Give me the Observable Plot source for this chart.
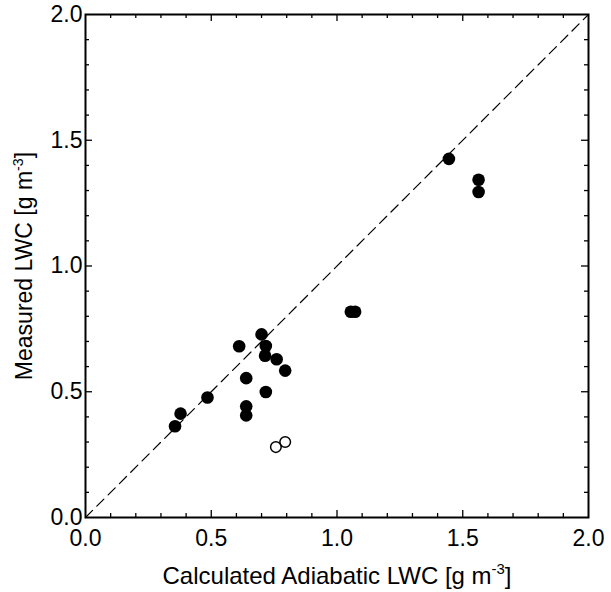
<!DOCTYPE html>
<html><head><meta charset="utf-8">
<script src="https://cdn.jsdelivr.net/npm/d3@7"></script>
<script src="https://cdn.jsdelivr.net/npm/@observablehq/plot@0.6"></script>
<style>body{margin:0;background:#fff}</style>
</head><body><div id="chart"></div>
<script>
// Filled circles
const filledX = [0.356, 0.378, 0.485, 0.611, 0.639, 0.639, 0.639, 0.700, 0.714, 0.717, 0.717, 0.760, 0.794, 1.055, 1.072, 1.445, 1.563, 1.563];
const filledY = [0.363, 0.413, 0.477, 0.681, 0.554, 0.442, 0.406, 0.728, 0.643, 0.682, 0.499, 0.629, 0.584, 0.818, 0.818, 1.426, 1.343, 1.294];
// Open circles
const openX = [0.757, 0.794];
const openY = [0.280, 0.300];
// 1:1 line
const diagonal = [0, 2];
const majorTicks = [0, 0.5, 1, 1.5, 2];
const minorTicks = [0.1, 0.2, 0.3, 0.4, 0.6, 0.7, 0.8, 0.9, 1.1, 1.2, 1.3, 1.4, 1.6, 1.7, 1.8, 1.9];
const tickLabels = ["0.0", "0.5", "1.0", "1.5", "2.0"];
const xTitle = ["Calculated Adiabatic LWC [g m", "-3", "]"];
const yTitle = ["Measured LWC [g m", "-3", "]"];

const W = 611, H = 592, ML = 85, MR = 23, MT = 14, MB = 75;
const FW = W - ML - MR, FH = H - MT - MB;

const filled = filledX.map((x, i) => ({x, y: filledY[i]}));
const open = openX.map((x, i) => ({x, y: openY[i]}));
const fmt = d => tickLabels[majorTicks.indexOf(d)];

// inward ticks on all four sides
function inwardTicks(ticks, len) {
  const o = {stroke: "black", strokeWidth: 1.3};
  return [
    Plot.tickX(ticks, {x: d => d, insetTop: FH - len, ...o}),
    Plot.tickX(ticks, {x: d => d, insetBottom: FH - len, ...o}),
    Plot.tickY(ticks, {y: d => d, insetRight: FW - len, ...o}),
    Plot.tickY(ticks, {y: d => d, insetLeft: FW - len, ...o})
  ];
}

const plot = Plot.plot({
  width: W, height: H,
  marginLeft: ML, marginRight: MR, marginTop: MT, marginBottom: MB,
  style: {fontFamily: "'Liberation Sans', Arial, Helvetica, sans-serif", fontSize: "23px", background: "white", color: "black"},
  x: {domain: [0, 2]},
  y: {domain: [0, 2]},
  marks: [
    Plot.axisX(majorTicks, {anchor: "bottom", tickSize: 0, tickPadding: 12, tickFormat: fmt, fontSize: 23,
      label: xTitle.join(""), labelAnchor: "center", labelArrow: "none", labelOffset: 66}),
    Plot.axisY(majorTicks, {anchor: "left", tickSize: 0, tickPadding: 3, tickFormat: fmt, fontSize: 23,
      label: yTitle.join(""), labelAnchor: "center", labelArrow: "none", labelOffset: 70}),
    ...inwardTicks(majorTicks.slice(1, -1), 7),
    ...inwardTicks(minorTicks, 4),
    Plot.line(diagonal, {x: d => d, y: d => d, stroke: "black", strokeWidth: 1.2, strokeDasharray: "10,6"}),
    Plot.dot(filled, {x: "x", y: "y", r: 6.3, fill: "black", stroke: "none"}),
    Plot.dot(open, {x: "x", y: "y", r: 5.3, fill: "none", stroke: "black", strokeWidth: 1.5}),
    Plot.frame({stroke: "black", strokeWidth: 2})
  ]
});

document.getElementById("chart").appendChild(plot);

// Render the exponent as a raised superscript
function superscript(title, size) {
  const full = title.join("");
  d3.select(plot).selectAll("text").filter(function() { return this.textContent === full; }).each(function() {
    const t = d3.select(this);
    t.attr("font-size", size);
    t.text(null);
    t.append("tspan").text(title[0]);
    t.append("tspan").attr("dy", -0.4 * size).attr("font-size", 0.62 * size).text(title[1]);
    t.append("tspan").attr("dy", 0.4 * size).text(title[2]);
  });
}
superscript(xTitle, 24);
superscript(yTitle, 23);
</script>
</body></html>
